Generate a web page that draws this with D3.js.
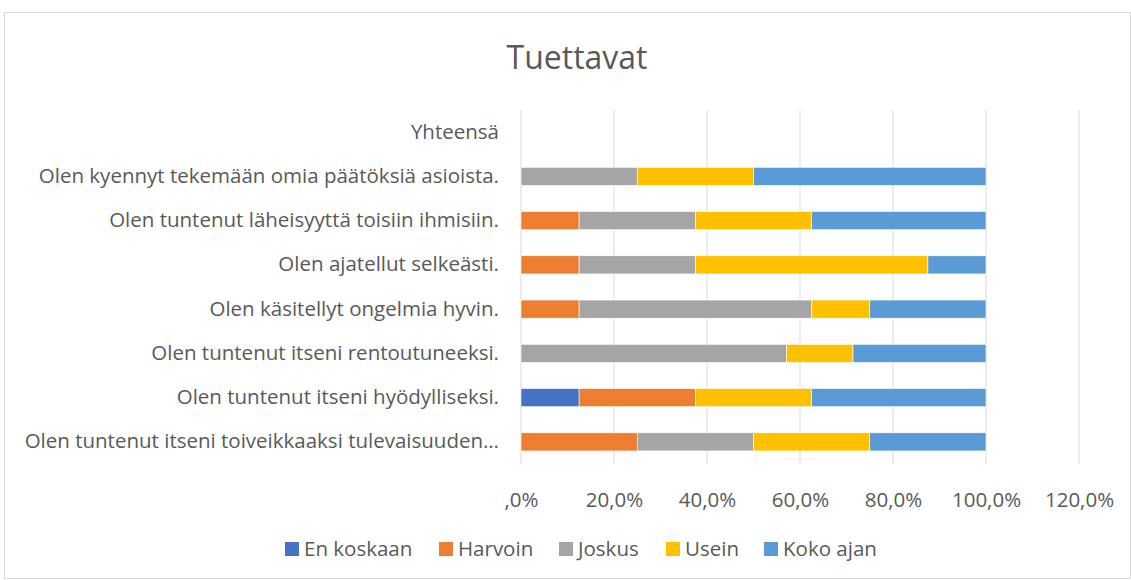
<!DOCTYPE html>
<html>
<head>
<meta charset="utf-8">
<script src="https://cdn.jsdelivr.net/npm/d3@7"></script>
<style>
  body { margin: 0; background: #fff; }
  svg text { font-family: "Open Sans", sans-serif; fill: #595959; }
</style>
</head>
<body>
<div id="chart"></div>
<script>
const categories = [
    'Yhteensä',
    'Olen kyennyt tekemään omia päätöksiä asioista.',
    'Olen tuntenut läheisyyttä toisiin ihmisiin.',
    'Olen ajatellut selkeästi.',
    'Olen käsitellyt ongelmia hyvin.',
    'Olen tuntenut itseni rentoutuneeksi.',
    'Olen tuntenut itseni hyödylliseksi.',
    'Olen tuntenut itseni toiveikkaaksi tulevaisuuden…'
];
const seriesNames = ['En koskaan', 'Harvoin', 'Joskus', 'Usein', 'Koko ajan'];
const seriesColors = ['#4472C4', '#ED7D31', '#A5A5A5', '#FFC000', '#5B9BD5'];

// shares per category, same order as categories
const enKoskaan = [0, 0, 0, 0, 0, 0, 0.125, 0];
const harvoin   = [0, 0, 0.125, 0.125, 0.125, 0, 0.25, 0.25];
const joskus    = [0, 0.25, 0.25, 0.25, 0.5, 0.571, 0, 0.25];
const usein     = [0, 0.25, 0.25, 0.5, 0.125, 0.143, 0.25, 0.25];
const kokoAjan  = [0, 0.5, 0.375, 0.125, 0.25, 0.286, 0.375, 0.25];

const tickValues = [0, 0.2, 0.4, 0.6, 0.8, 1.0, 1.2];
const tickLabels = [',0%', '20,0%', '40,0%', '60,0%', '80,0%', '100,0%', '120,0%'];

const width = 1131;
const height = 580;
const margin = { top: 110, right: 52, bottom: 116, left: 521 };
const fontSize = '20.5px';

const svg = d3.select('#chart').append('svg')
    .attr('width', width)
    .attr('height', height);

// chart frame
svg.append('rect')
    .attr('x', 4.5).attr('y', 12.5)
    .attr('width', width - 5).attr('height', height - 14)
    .attr('fill', 'none')
    .attr('stroke', '#d9d9d9');

svg.append('text')
    .attr('x', 577).attr('y', 69)
    .attr('text-anchor', 'middle')
    .style('font-size', '32px')
    .text('Tuettavat');

const table = categories.map((c, i) => ({
    category: c,
    'En koskaan': enKoskaan[i],
    'Harvoin': harvoin[i],
    'Joskus': joskus[i],
    'Usein': usein[i],
    'Koko ajan': kokoAjan[i]
}));

const x = d3.scaleLinear()
    .domain([0, 1.2])
    .range([margin.left, width - margin.right]);

const y = d3.scaleBand()
    .domain(categories)
    .range([margin.top, height - margin.bottom])
    .paddingInner(0.59)
    .paddingOuter(0.295);

const color = d3.scaleOrdinal().domain(seriesNames).range(seriesColors);

// gridlines
svg.append('g')
    .selectAll('line')
    .data(tickValues)
    .join('line')
    .attr('x1', d => x(d)).attr('x2', d => x(d))
    .attr('y1', margin.top).attr('y2', height - margin.bottom)
    .attr('stroke', '#d9d9d9')
    .attr('stroke-width', 1);

const stacked = d3.stack().keys(seriesNames)(table);

svg.append('g')
    .selectAll('g')
    .data(stacked)
    .join('g')
    .attr('fill', d => color(d.key))
    .selectAll('rect')
    .data(d => d)
    .join('rect')
    .attr('x', d => x(d[0]))
    .attr('y', d => y(d.data.category))
    .attr('width', d => x(d[1]) - x(d[0]))
    .attr('height', y.bandwidth())
    .attr('stroke', '#fff')
    .attr('stroke-width', 0.6);

// category axis
const yAxis = svg.append('g')
    .attr('transform', `translate(${margin.left},0)`)
    .call(d3.axisLeft(y).tickSize(0).tickPadding(22));
yAxis.select('.domain').remove();
yAxis.selectAll('text')
    .style('font-size', fontSize)
    .attr('fill', '#595959');

// value axis
const xAxis = svg.append('g')
    .attr('transform', `translate(0,${height - margin.bottom + 25})`)
    .call(d3.axisBottom(x).tickValues(tickValues)
        .tickFormat((d, i) => tickLabels[i]).tickSize(0));
xAxis.select('.domain').remove();
xAxis.selectAll('text')
    .style('font-size', fontSize)
    .attr('fill', '#595959');

// legend
const legendX = [285, 439, 559, 666, 764];
const legend = svg.append('g')
    .selectAll('g')
    .data(seriesNames)
    .join('g')
    .attr('transform', (d, i) => `translate(${legendX[i]},549)`);
legend.append('rect')
    .attr('x', 0).attr('y', -7)
    .attr('width', 14).attr('height', 14)
    .attr('fill', d => color(d));
legend.append('text')
    .attr('x', 19).attr('y', 0)
    .attr('dy', '0.35em')
    .style('font-size', fontSize)
    .text(d => d);
</script>
</body>
</html>
